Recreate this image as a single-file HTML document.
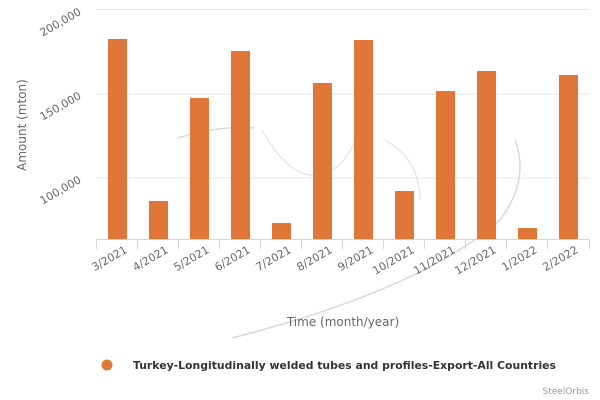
<!DOCTYPE html>
<html><head><meta charset="utf-8"><style>
html,body{margin:0;padding:0;background:#fff;}
svg{display:block;font-family:"DejaVu Sans","Liberation Sans",sans-serif;}
</style></head><body>
<svg width="600" height="400" viewBox="0 0 600 400" xmlns="http://www.w3.org/2000/svg">
<rect width="600" height="400" fill="#fff"/>
<!-- watermark swooshes -->
<path d="M178 138 Q220 125 255 128" stroke="#d8d8d8" stroke-width="1.5" fill="none"/>
<path d="M262 130 Q290 180 320 175 Q345 170 360 130" stroke="#e6e6e6" stroke-width="1.5" fill="none"/>
<path d="M385 140 Q420 160 420 200" stroke="#e6e6e6" stroke-width="1.5" fill="none"/>
<path d="M232 338 Q420 290 500 220 Q530 180 515 140" stroke="#d8d8d8" stroke-width="1.5" fill="none"/>
<!-- gridlines -->
<g stroke="#e6e6e6" stroke-width="1">
<line x1="96" y1="9.5" x2="590" y2="9.5"/>
<line x1="96" y1="94" x2="590" y2="94"/>
<line x1="96" y1="178" x2="590" y2="178"/>
</g>
<!-- y labels -->
<g fill="#666" font-size="11" text-anchor="end">
<text transform="translate(82,14) rotate(-30)">200,000</text>
<text transform="translate(82,98) rotate(-30)">150,000</text>
<text transform="translate(82,182) rotate(-30)">100,000</text>
</g>
<text transform="translate(26,125) rotate(-90)" fill="#666" font-size="12" text-anchor="middle">Amount (mton)</text>
<!-- bars -->
<g fill="#e07637">
<rect x="108" y="39" width="19" height="200"/>
<rect x="149" y="201" width="19" height="38"/>
<rect x="190" y="98" width="19" height="141"/>
<rect x="231" y="51" width="19" height="188"/>
<rect x="272" y="223" width="19" height="16"/>
<rect x="313" y="83" width="19" height="156"/>
<rect x="354" y="40" width="19" height="199"/>
<rect x="395" y="191" width="19" height="48"/>
<rect x="436" y="91" width="19" height="148"/>
<rect x="477" y="71" width="19" height="168"/>
<rect x="518" y="228" width="19" height="11"/>
<rect x="559" y="75" width="19" height="164"/>
</g>
<!-- x axis -->
<g stroke="#ccd6eb" stroke-width="1">
<line x1="96" y1="239.5" x2="590" y2="239.5"/>
<line x1="96.5" y1="239" x2="96.5" y2="249"/>
<line x1="137.5" y1="239" x2="137.5" y2="249"/>
<line x1="178.5" y1="239" x2="178.5" y2="249"/>
<line x1="219.5" y1="239" x2="219.5" y2="249"/>
<line x1="260.5" y1="239" x2="260.5" y2="249"/>
<line x1="301.5" y1="239" x2="301.5" y2="249"/>
<line x1="342.5" y1="239" x2="342.5" y2="249"/>
<line x1="383.5" y1="239" x2="383.5" y2="249"/>
<line x1="424.5" y1="239" x2="424.5" y2="249"/>
<line x1="465.5" y1="239" x2="465.5" y2="249"/>
<line x1="506.5" y1="239" x2="506.5" y2="249"/>
<line x1="547.5" y1="239" x2="547.5" y2="249"/>
<line x1="589.5" y1="239" x2="589.5" y2="249"/>
</g>
<g fill="#666" font-size="11" text-anchor="end">
<text transform="translate(128,252) rotate(-30)">3/2021</text>
<text transform="translate(169,252) rotate(-30)">4/2021</text>
<text transform="translate(210,252) rotate(-30)">5/2021</text>
<text transform="translate(251,252) rotate(-30)">6/2021</text>
<text transform="translate(292,252) rotate(-30)">7/2021</text>
<text transform="translate(333,252) rotate(-30)">8/2021</text>
<text transform="translate(374,252) rotate(-30)">9/2021</text>
<text transform="translate(415,252) rotate(-30)">10/2021</text>
<text transform="translate(456,252) rotate(-30)">11/2021</text>
<text transform="translate(497,252) rotate(-30)">12/2021</text>
<text transform="translate(538,252) rotate(-30)">1/2022</text>
<text transform="translate(579,252) rotate(-30)">2/2022</text>
</g>
<text x="343" y="326" fill="#666" font-size="12" text-anchor="middle">Time (month/year)</text>
<!-- legend -->
<circle cx="107" cy="365" r="5.5" fill="#e07637"/>
<text x="133" y="369" fill="#333" font-size="11" font-weight="bold" textLength="423" lengthAdjust="spacingAndGlyphs">Turkey-Longitudinally welded tubes and profiles-Export-All Countries</text>
<text x="589" y="394" fill="#999" font-size="9" text-anchor="end">SteelOrbis</text>
</svg>
</body></html>
